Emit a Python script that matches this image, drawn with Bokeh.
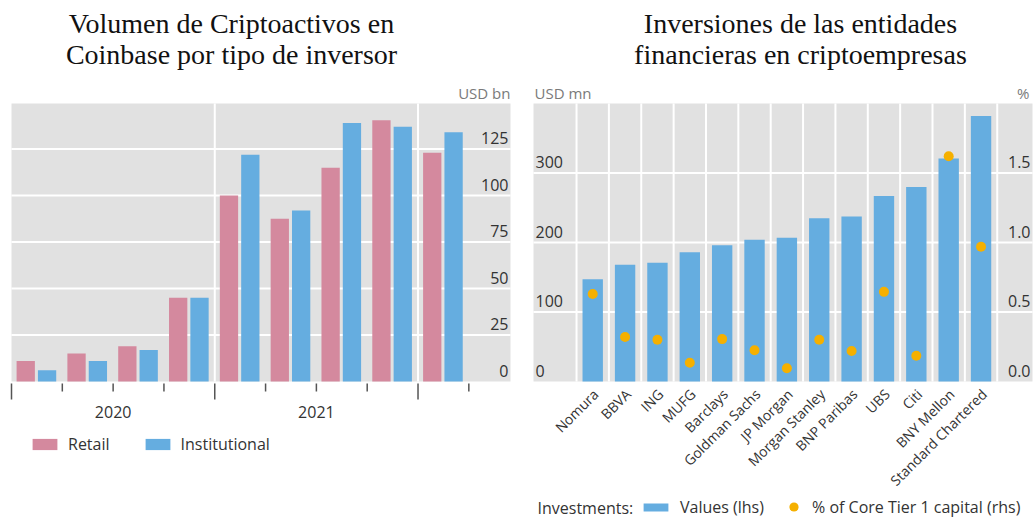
import numpy as np
from math import pi
from bokeh.plotting import figure
from bokeh.models import Range1d, Legend, LegendItem, ColumnDataSource
from bokeh.layouts import row
from bokeh.embed import file_html
from bokeh.resources import INLINE
from bokeh.core.properties import value

# ---------------- data ----------------
quarters = ["2020 T1", "2020 T2", "2020 T3", "2020 T4",
            "2021 T1", "2021 T2", "2021 T3", "2021 T4", "2022 T1"]
retail = [11, 15, 19, 45, 100, 87.5, 115, 140.5, 123]
institutional = [6, 11, 17, 45, 122, 92, 139, 137, 134]
years = ["2020", "2021"]
quarters_per_year = [4, 4]
left_ticks = [0, 25, 50, 75, 100, 125]

banks = ["Nomura", "BBVA", "ING", "MUFG", "Barclays", "Goldman Sachs",
         "JP Morgan", "Morgan Stanley", "BNP Paribas", "UBS", "Citi",
         "BNY Mellon", "Standard Chartered"]
investments = [147, 168, 171, 186, 196, 204, 207, 235, 237.5, 267, 280, 321, 382]
core_tier1_pct = [0.63, 0.32, 0.30, 0.135, 0.305, 0.225, 0.095, 0.30, 0.22,
                  0.645, 0.185, 1.62, 0.97]
lhs_ticks = [0, 100, 200, 300]
rhs_ticks = [0.0, 0.5, 1.0, 1.5]

# ---------------- style ----------------
PINK = "#D4899E"
BLUE = "#65ADE0"
ORANGE = "#F5B000"
BG = "#E1E1E1"
TXT = "#333333"
GREY = "#7A7A7A"
TICK = "#555555"
SANS = "Open Sans"
SERIF = "Liberation Serif"
H = 519
TOP, BOTTOM = 103, 138          # pixels above / below the plotting area


def make_fig(width, left_px, right_px, x0, x1, y0, y1):
    """Figure whose frame is the whole canvas; the grey plot area spans
    x0..x1 / y0..y1 in data units and sits at the given pixel margins."""
    fw = width - left_px - right_px
    fh = H - TOP - BOTTOM
    kx = (x1 - x0) / fw
    ky = (y1 - y0) / fh
    xr = Range1d(x0 - left_px * kx, x1 + right_px * kx)
    yr = Range1d(y0 - BOTTOM * ky, y1 + TOP * ky)
    p = figure(width=width, height=H, x_range=xr, y_range=yr,
               output_backend="svg", toolbar_location=None, title=None,
               x_axis_location=None, y_axis_location=None,
               min_border=0, min_border_left=0, min_border_right=0,
               min_border_top=0, min_border_bottom=0)
    p.background_fill_color = "white"
    p.border_fill_color = "white"
    p.outline_line_color = None
    p.grid.visible = False
    p.quad(left=[x0], right=[x1], bottom=[y0], top=[y1],
           fill_color=BG, line_color=None)
    return p, ky


def txt(p, x, y, text, align, baseline="middle", xo=0, yo=0, size="16px",
        color=TXT, font=SANS, angle=0, **kw):
    p.text(x=list(x), y=list(y), text=list(text), text_align=align,
           text_baseline=baseline, x_offset=xo, y_offset=yo, angle=angle,
           text_font=value(font), text_font_size=size, text_color=color, **kw)


def legend(items, loc, gw, gh, standoff, spacing=10):
    return Legend(items=items, location=loc, orientation="horizontal",
                  glyph_width=gw, glyph_height=gh, label_height=gh,
                  label_standoff=standoff, spacing=spacing,
                  padding=0, margin=0, background_fill_alpha=0,
                  border_line_alpha=0, label_text_font=SANS,
                  label_text_font_size="16px", label_text_color=TXT)


# ================= LEFT CHART =================
n = len(quarters)
xs = np.arange(n)
XL_END = 9.82
YL_END = 149.5
pL, kyL = make_fig(517, 11, 7, 0, XL_END, 0, YL_END)

year_starts = [0] + list(np.cumsum(quarters_per_year))
minor = [i for i in range(1, n + 1) if i not in year_starts]

# grid lines (white)
g = left_ticks[1:]
pL.segment(x0=[0] * len(g), x1=[XL_END] * len(g), y0=g, y1=g,
           line_color="white", line_width=2)
vg = year_starts[1:]
pL.segment(x0=vg, x1=vg, y0=[0] * len(vg), y1=[YL_END] * len(vg),
           line_color="white", line_width=2)

srcL = ColumnDataSource(dict(q=quarters, xr=xs + 0.28, xi=xs + 0.70,
                             retail=retail, inst=institutional))
r_ret = pL.vbar(x="xr", top="retail", width=0.36, source=srcL,
                fill_color=PINK, line_color=None)
r_ins = pL.vbar(x="xi", top="inst", width=0.36, source=srcL,
                fill_color=BLUE, line_color=None)

# x-axis tick marks below the plot (long at years, short at quarters)
pL.segment(x0=year_starts, x1=year_starts, y0=[-2 * kyL] * len(year_starts),
           y1=[-18 * kyL] * len(year_starts), line_color=TICK, line_width=1.5)
pL.segment(x0=minor, x1=minor, y0=[-2 * kyL] * len(minor),
           y1=[-10 * kyL] * len(minor), line_color=TICK, line_width=1.5)

# y tick labels inside the plot, on the right
txt(pL, [XL_END] * len(left_ticks), left_ticks, [str(t) for t in left_ticks],
    "right", xo=-2, yo=-11)
# year labels
txt(pL, [s + q / 2 for s, q in zip(year_starts, quarters_per_year)],
    [0] * len(years), years, "center", yo=30)
# unit
txt(pL, [XL_END], [YL_END], ["USD bn"], "right", yo=-11, size="15px", color=GREY)
# title
txt(pL, [4.33, 4.33], [YL_END, YL_END],
    ["Volumen de Criptoactivos en", "Coinbase por tipo de inversor"],
    "center", baseline="alphabetic", yo=[-80, -49], size="28px",
    color="#111111", font=SERIF)

pL.add_layout(legend([LegendItem(label="Retail", renderers=[r_ret]),
                      LegendItem(label="Institutional", renderers=[r_ins])],
                     (29, H - 455), 31, 14, 8, spacing=32))

# ================= RIGHT CHART =================
m = len(banks)
XR_START, XR_END = -1.83, 13.59
YR_END = 400
pR, kyR = make_fig(518, 16, 3, XR_START, XR_END, 0, YR_END)
pR.extra_y_ranges = {"pct": Range1d(pR.y_range.start / 200, pR.y_range.end / 200)}

bounds = [i - 0.5 for i in range(m + 1)]
pR.segment(x0=[XR_START] * (len(lhs_ticks) - 1), x1=[XR_END] * (len(lhs_ticks) - 1),
           y0=lhs_ticks[1:], y1=lhs_ticks[1:], line_color="white", line_width=2)
pR.segment(x0=bounds, x1=bounds, y0=[0] * len(bounds), y1=[YR_END] * len(bounds),
           line_color="white", line_width=2)

srcR = ColumnDataSource(dict(bank=banks, x=np.arange(m), inv=investments,
                             pct=core_tier1_pct))
r_inv = pR.vbar(x="x", top="inv", width=0.63, source=srcR,
                fill_color=BLUE, line_color=None)
r_pct = pR.scatter(x="x", y="pct", size=10, source=srcR, y_range_name="pct",
                   fill_color=ORANGE, line_color=None)

# category labels, rotated
txt(pR, range(m), [0] * m, banks, "right", xo=3, yo=10, size="14px",
    angle=pi / 4)
# tick labels inside the plot
txt(pR, [XR_START] * len(lhs_ticks), lhs_ticks, [str(t) for t in lhs_ticks],
    "left", xo=2, yo=-11)
txt(pR, [XR_END] * len(rhs_ticks), rhs_ticks, [f"{t:.1f}" for t in rhs_ticks],
    "right", xo=-2, yo=-11, y_range_name="pct")
# units
txt(pR, [XR_START], [YR_END], ["USD mn"], "left", xo=1, yo=-11, size="15px", color=GREY)
txt(pR, [XR_END], [YR_END], ["%"], "right", xo=-3, yo=-11, size="15px", color=GREY)
# title
txt(pR, [6.42, 6.42], [YR_END, YR_END],
    ["Inversiones de las entidades", "financieras en criptoempresas"],
    "center", baseline="alphabetic", yo=[-80, -49], size="28px",
    color="#111111", font=SERIF)
# legend caption
txt(pR, [XR_START], [0], ["Investments:"], "left", xo=4, yo=126)

pR.add_layout(legend([LegendItem(label="Values (lhs)", renderers=[r_inv])],
                     (123, H - 518), 31, 10, 9))
pR.add_layout(legend([LegendItem(label="% of Core Tier 1 capital (rhs)",
                                 renderers=[r_pct])],
                     (265, H - 518), 23, 23, 7))

layout = row(pL, pR)
open("out.html", "w").write(file_html(layout, INLINE))
